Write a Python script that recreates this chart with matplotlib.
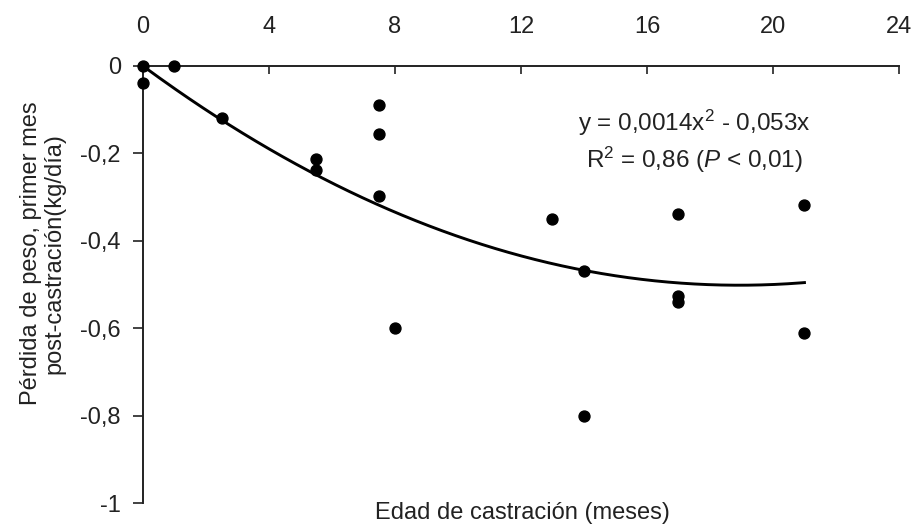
import numpy as np
import matplotlib
matplotlib.use('Agg')
import matplotlib.pyplot as plt

plt.rcParams['font.family'] = ['Liberation Sans', 'DejaVu Sans']
plt.rcParams['mathtext.fontset'] = 'custom'
plt.rcParams['mathtext.rm'] = 'Liberation Sans'
plt.rcParams['mathtext.it'] = 'Liberation Sans:italic'

# datos
edad = [0, 0, 1, 2.5, 5.5, 5.5, 7.5, 7.5, 7.5, 8, 13, 14, 14, 17, 17, 17, 21, 21]
perdida = [0, -0.04, 0, -0.12, -0.213, -0.238, -0.09, -0.156, -0.297, -0.6,
           -0.35, -0.469, -0.80, -0.339, -0.527, -0.541, -0.318, -0.611]

# coeficientes de la tendencia polinómica (y = a x^2 + b x)
coef = [0.0014, -0.053, 0.0]
x_tick_vals = [0, 4, 8, 12, 16, 20, 24]
y_tick_vals = [0, -0.2, -0.4, -0.6, -0.8, -1]
y_tick_labels = ['0', '-0,2', '-0,4', '-0,6', '-0,8', '-1']

fig = plt.figure(figsize=(9.13, 5.28), dpi=100)
ax = fig.add_axes([0.1566, 0.0473, 0.828, 0.8277])

# curva de tendencia
xs = np.linspace(0, 21, 200)
ax.plot(xs, np.polyval(coef, xs), color='black', lw=2.1, zorder=2)

# puntos
ax.scatter(edad, perdida, s=62, color='black', zorder=3, clip_on=False)

ax.set_xlim(0, 24)
ax.set_ylim(-1, 0)

# ejes: eje x arriba, eje y a la izquierda
for s in ['right', 'bottom']:
    ax.spines[s].set_visible(False)
for s in ['left', 'top']:
    ax.spines[s].set_linewidth(1.4)
    ax.spines[s].set_color('#222222')

ax.xaxis.tick_top()
ax.set_xticks(x_tick_vals)
ax.set_xticklabels([str(v) for v in x_tick_vals])
ax.tick_params(axis='x', direction='in', length=6, width=1.2, pad=20,
               labelsize=17, colors='#222222')
ax.set_yticks(y_tick_vals)
ax.set_yticklabels(y_tick_labels)
ax.tick_params(axis='y', direction='out', length=7, width=1.2, pad=9,
               labelsize=17, colors='#222222')

fig.text(0.572, 0.028, 'Edad de castración (meses)', ha='center', va='center',
         fontsize=17, color='#222222')
fig.text(0.047, 0.52, 'Pérdida de peso, primer mes\npost-castración(kg/día)',
         ha='center', va='center', rotation=90, fontsize=17,
         color='#222222', linespacing=1.1)

ax.text(17.5, -0.13, 'y = 0,0014x$^{2}$ - 0,053x', ha='center', va='center',
        fontsize=17.5, color='#222222')
ax.text(17.5, -0.215, 'R$^{2}$ = 0,86 ($P$ < 0,01)', ha='center', va='center',
        fontsize=17.5, color='#222222')

fig.savefig('out.png', dpi=100, facecolor='white')
